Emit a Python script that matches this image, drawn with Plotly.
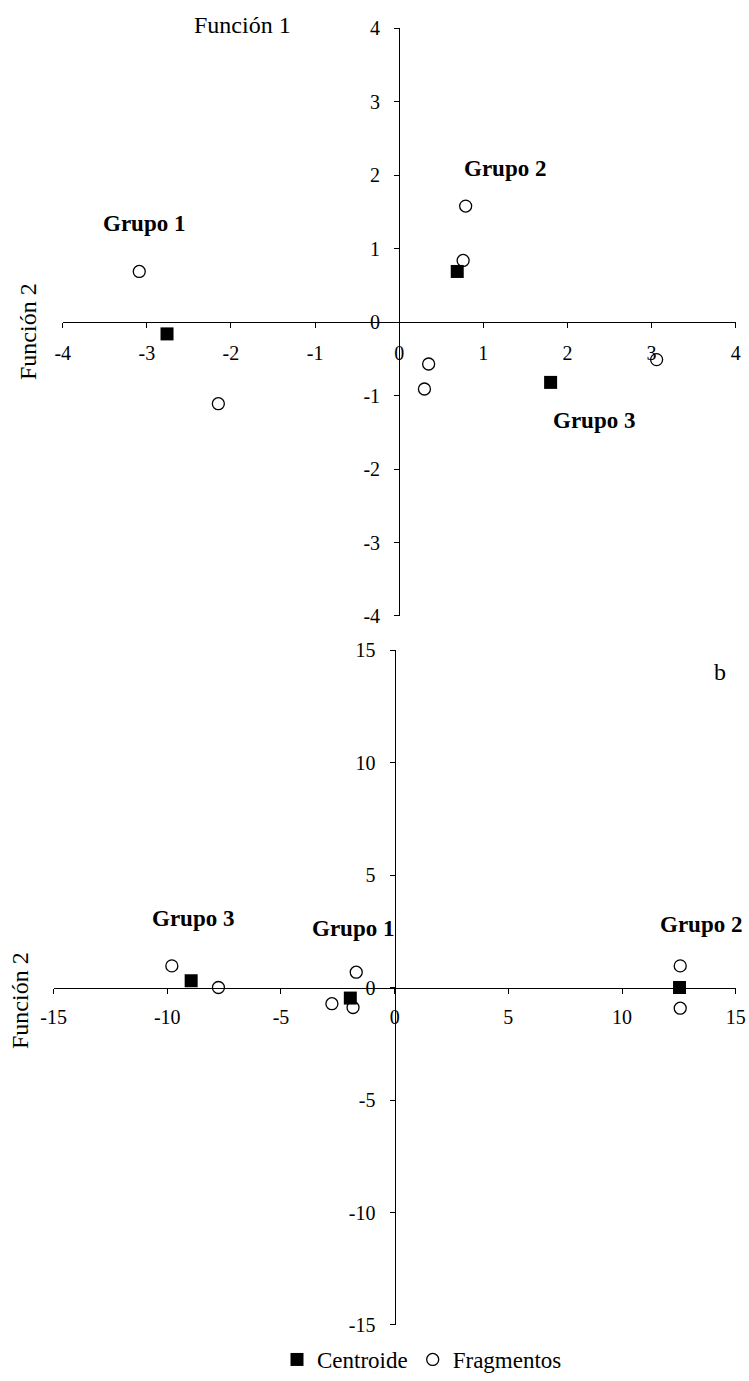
import plotly.graph_objects as go

# Panel a: discriminant functions 1 and 2
a_centroid_x = [-2.76, 0.69, 1.80]
a_centroid_y = [-0.16, 0.69, -0.82]
a_frag_x = [-3.09, -2.15, 0.79, 0.76, 0.35, 0.30, 3.06]
a_frag_y = [0.69, -1.11, 1.58, 0.84, -0.57, -0.91, -0.51]
a_group_names = ["Grupo 1", "Grupo 2", "Grupo 3"]
a_group_x = [-3.03, 1.26, 2.32]
a_group_y = [1.34, 2.09, -1.34]

# Panel b
b_centroid_x = [-8.95, -1.95, 12.53]
b_centroid_y = [0.30, -0.47, 0.0]
b_frag_x = [-9.80, -7.75, -1.69, -2.76, -1.83, 12.56, 12.56]
b_frag_y = [0.96, 0.0, 0.68, -0.72, -0.89, 0.96, -0.92]
b_group_names = ["Grupo 3", "Grupo 1", "Grupo 2"]
b_group_x = [-8.86, -1.82, 13.49]
b_group_y = [3.05, 2.61, 2.79]

a_ticks = [-4, -3, -2, -1, 0, 1, 2, 3, 4]
b_ticks = [-15, -10, -5, 0, 5, 10, 15]
a_ticktext = [str(v) for v in a_ticks]
b_ticktext = [str(v) for v in b_ticks]

FONT = "Liberation Serif"
W, H = 749, 1381

# plot areas in pixels (left, right, top, bottom)
a_box = (62.7, 735.7, 28.3, 616.0)
b_box = (53.6, 735.7, 650.0, 1325.0)


def xdom(box):
    return [box[0] / W, box[1] / W]


def ydom(box):
    return [1 - box[3] / H, 1 - box[2] / H]


def mid(d):
    return (d[0] + d[1]) / 2


fig = go.Figure()

sq = dict(symbol="square", size=13, color="black", line=dict(width=0))
circ = dict(symbol="circle-open", size=12, color="black", line=dict(width=1.3, color="black"))

fig.add_trace(go.Scatter(x=a_frag_x, y=a_frag_y, mode="markers", marker=circ,
                         xaxis="x", yaxis="y", showlegend=False, cliponaxis=False))
fig.add_trace(go.Scatter(x=a_centroid_x, y=a_centroid_y, mode="markers", marker=sq,
                         xaxis="x", yaxis="y", showlegend=False, cliponaxis=False))
fig.add_trace(go.Scatter(x=b_centroid_x, y=b_centroid_y, mode="markers", marker=sq,
                         xaxis="x2", yaxis="y2", name="Centroide", cliponaxis=False))
fig.add_trace(go.Scatter(x=b_frag_x, y=b_frag_y, mode="markers", marker=circ,
                         xaxis="x2", yaxis="y2", name="Fragmentos", cliponaxis=False))

axis_common = dict(
    showgrid=False, zeroline=False, showline=True, linecolor="black", linewidth=1.3,
    ticks="outside", ticklen=5, tickwidth=1.3, tickcolor="black",
    tickfont=dict(family=FONT, size=20, color="black"),
    anchor="free", fixedrange=True, automargin=False, tickmode="array",
)

fig.update_layout(
    template="none",
    width=W, height=H,
    margin=dict(l=0, r=0, t=0, b=0, pad=0),
    plot_bgcolor="white", paper_bgcolor="white",
    font=dict(family=FONT, size=20, color="black"),
    xaxis=dict(axis_common, domain=xdom(a_box), range=[-4.0001, 4.0001],
               tickvals=a_ticks, ticktext=a_ticktext, position=mid(ydom(a_box)),
               ticklabelstandoff=8),
    yaxis=dict(axis_common, domain=ydom(a_box), range=[-4.0001, 4.0001],
               tickvals=a_ticks, ticktext=a_ticktext, position=mid(xdom(a_box)),
               ticklabelstandoff=10),
    xaxis2=dict(axis_common, domain=xdom(b_box), range=[-15.0003, 15.0003],
                tickvals=b_ticks, ticktext=b_ticktext, position=mid(ydom(b_box)),
                ticklabelstandoff=6),
    yaxis2=dict(axis_common, domain=ydom(b_box), range=[-15.0003, 15.0003],
                tickvals=b_ticks, ticktext=b_ticktext, position=mid(xdom(b_box)),
                ticklabelstandoff=10),
    # legend kept fully inside the figure so it does not push the bottom margin
    legend=dict(orientation="h", x=422 / W, xanchor="center", y=0, yanchor="bottom",
                font=dict(family=FONT, size=23, color="black"),
                itemwidth=30, tracegroupgap=0, bgcolor="rgba(0,0,0,0)"),
    showlegend=True,
)

group_font = dict(family=FONT, size=23, color="black")
annotations = []
for name, gx, gy in zip(a_group_names, a_group_x, a_group_y):
    annotations.append(dict(x=gx, y=gy, xref="x", yref="y", text="<b>" + name + "</b>",
                            showarrow=False, font=group_font,
                            xanchor="center", yanchor="middle"))
for name, gx, gy in zip(b_group_names, b_group_x, b_group_y):
    annotations.append(dict(x=gx, y=gy, xref="x2", yref="y2", text="<b>" + name + "</b>",
                            showarrow=False, font=group_font,
                            xanchor="center", yanchor="middle"))

title_font = dict(family=FONT, size=24, color="black")
for text, px, py, angle in [("Función 1", 242, 25, 0),
                            ("Función 2", 28, 331, -90),
                            ("Función 2", 20, 1001, -90),
                            ("b", 720, 672, 0)]:
    annotations.append(dict(x=px / W, y=1 - py / H, xref="paper", yref="paper", text=text,
                            showarrow=False, textangle=angle, font=title_font,
                            xanchor="center", yanchor="middle"))
fig.update_layout(annotations=annotations)

fig.write_html("out.html")
